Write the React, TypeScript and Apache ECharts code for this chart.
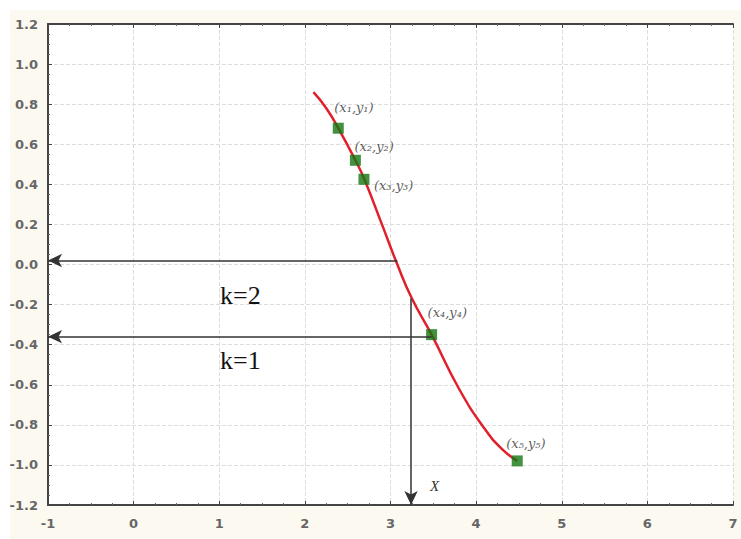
import React, { useEffect, useRef } from "react";
import * as echarts from "echarts";

const curveX = [2.1, 2.25, 2.39, 2.59, 2.69, 2.9, 3.08, 3.25, 3.48, 3.8, 4.1, 4.3, 4.48];
const curveY = [0.86, 0.78, 0.68, 0.52, 0.43, 0.2, 0.0, -0.17, -0.35, -0.62, -0.82, -0.92, -0.98];

const pointX = [2.39, 2.59, 2.69, 3.48, 4.48];
const pointY = [0.68, 0.52, 0.425, -0.35, -0.98];
const pointLabels = ["(x₁,y₁)", "(x₂,y₂)", "(x₃,y₃)", "(x₄,y₄)", "(x₅,y₅)"];
const labelOffsets = [[-4, -21], [-1, -14], [10, 6], [-4, -22], [-11, -17]];

const arrowK2 = [[3.08, 0.02], [-1, 0.02]];
const arrowK1 = [[3.48, -0.36], [-1, -0.36]];
const arrowX = [[3.24, -0.17], [3.24, -1.2]];

export default function App() {
  const ref = useRef<HTMLDivElement>(null);
  useEffect(() => {
    if (!ref.current) return;
    const chart = echarts.init(ref.current, undefined, { renderer: "svg" });
    const axisCommon = {
      type: "value",
      min: -1,
      max: 7,
      interval: 1,
      axisLine: { show: true, onZero: false, lineStyle: { color: "#444", width: 2 } },
      axisTick: { show: true, inside: true, length: 4, lineStyle: { color: "#444" } },
      minorTick: { show: true, splitNumber: 4, length: 2, lineStyle: { color: "#666" } },
    };
    chart.setOption({
      animation: false,
      backgroundColor: "#fcf9f1",
      grid: {
        left: 48,
        top: 24,
        width: 685,
        height: 481,
        outerBoundsMode: "none",
        containLabel: false,
        show: true,
        backgroundColor: "#ffffff",
        borderWidth: 0,
      },
      graphic: [
        { type: "rect", shape: { x: 0, y: 0, width: 741, height: 10 }, style: { fill: "#ffffff" }, z: -1 },
        { type: "rect", shape: { x: 0, y: 0, width: 10, height: 539 }, style: { fill: "#ffffff" }, z: -1 },
        { type: "text", x: 220, y: 282, style: { text: "k=2", fontSize: 26, fontFamily: "Liberation Serif", fill: "#111" }, z: 5 },
        { type: "text", x: 220, y: 347, style: { text: "k=1", fontSize: 26, fontFamily: "Liberation Serif", fill: "#111" }, z: 5 },
        { type: "text", x: 430, y: 478, style: { text: "X", fontSize: 15, fontFamily: "Liberation Serif", fontStyle: "italic", fill: "#333" }, z: 5 },
      ],
      xAxis: [
        {
          ...axisCommon,
          position: "bottom",
          axisLabel: { color: "#666", fontSize: 13, fontWeight: "bold", fontFamily: "DejaVu Sans", margin: 12 },
          splitLine: { show: true, lineStyle: { color: "#dcdcdc", type: "dashed", width: 1 } },
        },
        {
          ...axisCommon,
          position: "top",
          axisLabel: { show: false },
          splitLine: { show: false },
        },
      ],
      yAxis: {
        type: "value",
        min: -1.2,
        max: 1.2,
        interval: 0.2,
        axisLine: { show: true, onZero: false, lineStyle: { color: "#444", width: 2 } },
        axisTick: { show: true, inside: true, length: 4, lineStyle: { color: "#444" } },
        minorTick: { show: true, splitNumber: 4, length: 2, lineStyle: { color: "#666" } },
        axisLabel: {
          color: "#666",
          fontSize: 13,
          fontWeight: "bold",
          fontFamily: "DejaVu Sans",
          margin: 10,
          formatter: (v: number) => (Math.abs(v) < 1e-9 ? "0.0" : v.toFixed(1)),
        },
        splitLine: { show: true, lineStyle: { color: "#dcdcdc", type: "dashed", width: 1 } },
      },
      series: [
        {
          type: "line",
          xAxisIndex: 0,
          data: curveX.map((x, i) => [x, curveY[i]]),
          smooth: 0.5,
          showSymbol: false,
          lineStyle: { color: "#e0202a", width: 2.5 },
          z: 3,
          markLine: {
            silent: true,
            label: { show: false },
            data: [
              [
                { coord: arrowK2[0], symbol: "none" },
                { coord: arrowK2[1], symbol: "arrow", symbolSize: [10, 14] },
              ],
              [
                { coord: arrowK1[0], symbol: "none" },
                { coord: arrowK1[1], symbol: "arrow", symbolSize: [10, 14] },
              ],
              [
                { coord: arrowX[0], symbol: "none" },
                { coord: arrowX[1], symbol: "arrow", symbolSize: [10, 14] },
              ],
            ],
            lineStyle: { color: "#333", width: 1.5, type: "solid" },
          },
        },
        {
          type: "scatter",
          xAxisIndex: 1,
          data: pointX.map((x, i) => ({
            value: [x, pointY[i]],
            label: {
              show: true,
              formatter: pointLabels[i],
              position: "inside",
              offset: labelOffsets[i],
              align: "left",
              color: "#333",
              fontSize: 13,
              fontFamily: "DejaVu Serif",
              fontStyle: "italic",
            },
          })),
          symbol: "rect",
          symbolSize: 11,
          itemStyle: { color: "#137713" },
          z: 4,
        },
      ],
    });
    return () => chart.dispose();
  }, []);
  return (
    <div
      ref={ref}
      style={{ position: "fixed", left: 0, top: 0, width: 741, height: 539 }}
    />
  );
}
